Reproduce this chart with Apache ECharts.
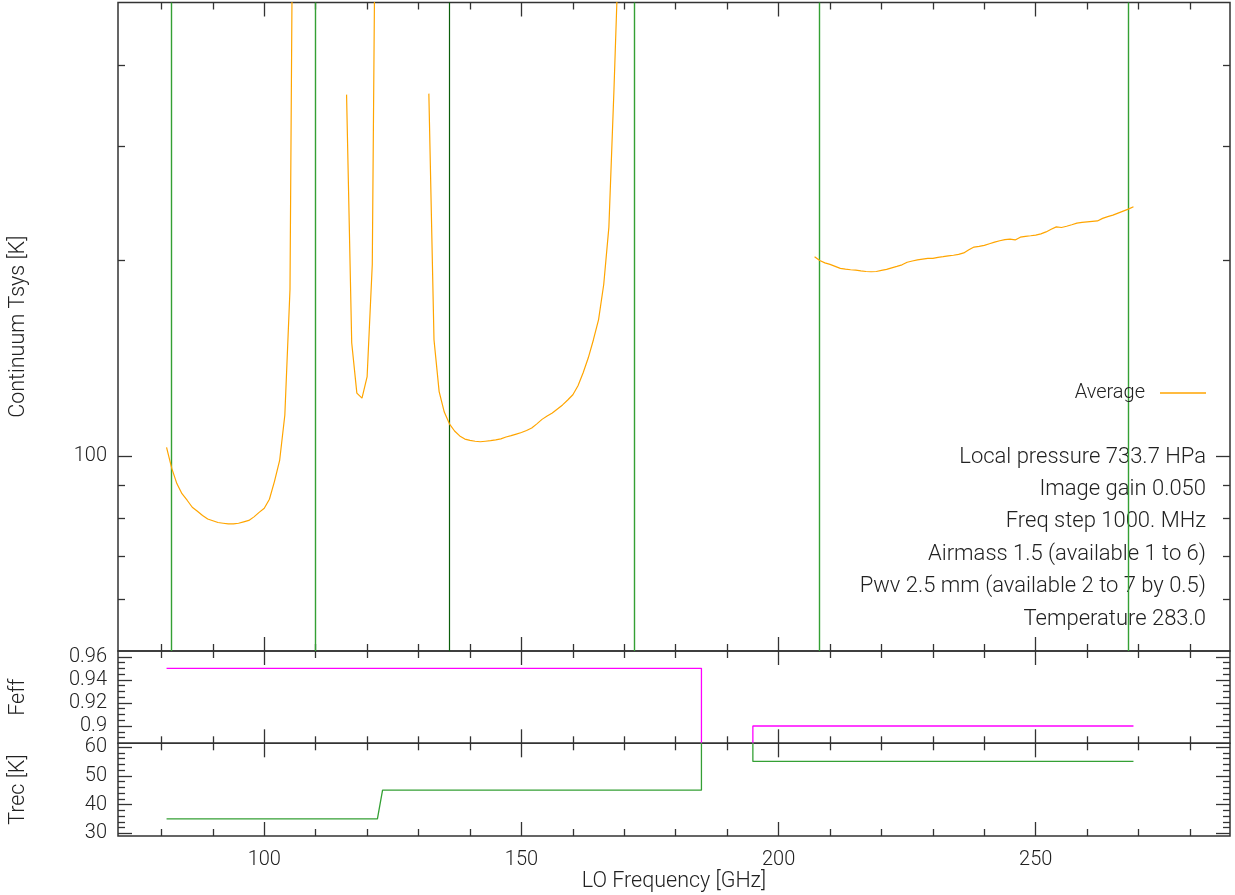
<!DOCTYPE html>
<html><head><meta charset="utf-8">
<script src="https://cdn.jsdelivr.net/npm/echarts@6/dist/echarts.min.js"></script>
<style>html,body{margin:0;padding:0;background:#fff}#c{width:1235px;height:895px}</style>
</head><body><div id="c"></div>
<script>
// ---------- data ----------
const seg1Freq = [81,82,83,84,85,86,87,88,89,90,91,92,93,94,95,96,97,98,99,100,101,102,103,104,105,106];
const seg1Tsys = [103.0,95.7,90.6,87.4,85.4,83.3,82.1,80.9,79.9,79.4,78.9,78.7,78.5,78.5,78.7,79.1,79.5,80.5,81.8,83.0,85.7,91.4,98.5,115.6,180.5,2600];
const seg2Freq = [116,117,118,119,120,121,122];
const seg2Tsys = [360.5,149.4,124.9,122.7,132.5,197.2,1824];
const seg3Freq = [132,133,134,135,136,137,138,139,140,141,142,143,144,145,146,147,148,149,150,151,152,153,154,155,156,157,158,159,160,161,162,163,164,165,166,167,168,169];
const seg3Tsys = [361.8,151.0,125.6,116.8,112.0,109.2,107.3,106.1,105.6,105.3,105.1,105.3,105.5,105.8,106.2,106.9,107.4,108.0,108.6,109.4,110.4,112.0,113.8,115.2,116.4,118.1,119.8,121.9,124.2,128.2,134.3,141.6,151.0,162.2,183.7,225,368,640];
const seg4Freq = [207,208,209,210,211,212,213,214,215,216,217,218,219,220,221,222,223,224,225,226,227,228,229,230,231,232,233,234,235,236,237,238,239,240,241,242,243,244,245,246,247,248,249,250,251,252,253,254,255,256,257,258,259,260,261,262,263,264,265,266,267,268,269];
const seg4Tsys = [202.8,200.0,198.4,197.3,195.9,194.5,194.0,193.6,193.3,192.8,192.4,192.2,192.4,193.1,193.8,194.9,195.9,197.0,198.8,199.7,200.5,201.0,201.5,201.6,202.3,202.8,203.4,203.8,204.5,205.5,207.8,209.8,210.4,211.1,212.3,213.5,214.6,215.4,215.8,215.2,217.3,218.0,218.4,218.9,219.9,221.4,223.5,225.4,224.9,225.9,227.1,228.4,229.0,229.4,229.8,230.2,232.3,233.8,235.0,236.7,238.4,240.1,242.1];

const bandEdges = [82,110,172,208,268];
const darkEdges = [136];

const feffFreq = [81,185,185,195,195,269];
const feffVal  = [0.95,0.95,0.80,0.80,0.90,0.90];
const trecFreq = [81,122,123,185,185,195,195,269];
const trecVal  = [35,35,45,45,80,80,55,55];

const xMajor = [100,150,200,250];
const xMinor = [80,90,110,120,130,140,160,170,180,190,210,220,230,240,260,270,280];
const tsysMajor = [100];
const tsysMinor = [60,70,80,90,200,300,400];
const feffMajor = [0.90,0.92,0.94,0.96];
const feffMinor = [0.89,0.895,0.905,0.91,0.915,0.925,0.93,0.935,0.945,0.95,0.955];
const trecMajor = [30,40,50,60];
const trecMinor = [32,34,36,38,42,44,46,48,52,54,56,58];

const infoLines = ['Local pressure 733.7 HPa','Image gain 0.050','Freq step 1000. MHz','Airmass 1.5 (available 1 to 6)','Pwv 2.5 mm (available 2 to 7 by 0.5)','Temperature 283.0'];

// ---------- layout ----------
const FONT = 'Roboto';
const FW = 300;
const TXT = '#222';
const X_MIN = 71.56, X_MAX = 287.77;
const LOG_MIN = Math.log10(50), LOG_MAX = Math.log10(500);
const FEFF_MIN = 0.885, FEFF_MAX = 0.965;
const TREC_MIN = 29.06, TREC_MAX = 61.3;
const TICK = {color:'#333', width:1.3};
const MAJ = 14, MIN = 7;

function tickAxis(grid, pos, min, max, vals, len, extra) {
  return Object.assign({
    type:'value', gridIndex:grid, position:pos, min:min, max:max,
    axisLine:{show:false}, splitLine:{show:false},
    axisTick:{show:true, inside:true, length:len, customValues:vals, lineStyle:TICK},
    axisLabel:{show:false}
  }, extra || {});
}
function label(vals, fmt, margin) {
  const o = {show:true, customValues:vals, fontFamily:FONT, fontWeight:FW, fontSize:20, color:TXT, margin:margin};
  if (fmt) o.formatter = fmt;
  return o;
}
const nameStyle = {fontFamily:FONT, fontWeight:FW, fontSize:21.5, color:TXT};

const xAxes = [];
for (let g = 0; g < 3; g++) {
  const bottomExtra = g === 2 ? {
    axisLabel: label(xMajor, null, 14),
    name:'LO Frequency [GHz]', nameLocation:'middle', nameGap:31, nameTextStyle:nameStyle
  } : {};
  xAxes.push(tickAxis(g,'bottom',X_MIN,X_MAX,xMajor,MAJ,bottomExtra));
  xAxes.push(tickAxis(g,'bottom',X_MIN,X_MAX,xMinor,MIN));
  xAxes.push(tickAxis(g,'top',X_MIN,X_MAX,xMajor,MAJ));
  xAxes.push(tickAxis(g,'top',X_MIN,X_MAX,xMinor,MIN));
}

const yAxes = [
  // main data axis (log)
  {type:'log', logBase:10, gridIndex:0, min:50, max:500, position:'left',
   axisLine:{show:false}, axisTick:{show:false}, axisLabel:{show:false}, splitLine:{show:false},
   name:'Continuum Tsys [K]', nameLocation:'middle', nameGap:88, nameTextStyle:nameStyle},
  // main tick axes (log-space positions)
  tickAxis(0,'left',LOG_MIN,LOG_MAX,tsysMajor.map(Math.log10),MAJ,
    {axisLabel: label(tsysMajor.map(Math.log10), v => String(Math.round(Math.pow(10, v))), 11)}),
  tickAxis(0,'left',LOG_MIN,LOG_MAX,tsysMinor.map(Math.log10),MIN),
  tickAxis(0,'right',LOG_MIN,LOG_MAX,tsysMajor.map(Math.log10),MAJ),
  tickAxis(0,'right',LOG_MIN,LOG_MAX,tsysMinor.map(Math.log10),MIN),
  // feff
  tickAxis(1,'left',FEFF_MIN,FEFF_MAX,feffMajor,MAJ,
    {axisLabel: label(feffMajor, null, 11), name:'Feff', nameLocation:'middle', nameGap:88, nameTextStyle:nameStyle}),
  tickAxis(1,'left',FEFF_MIN,FEFF_MAX,feffMinor,MIN),
  tickAxis(1,'right',FEFF_MIN,FEFF_MAX,feffMajor,MAJ),
  tickAxis(1,'right',FEFF_MIN,FEFF_MAX,feffMinor,MIN),
  // trec
  tickAxis(2,'left',TREC_MIN,TREC_MAX,trecMajor,MAJ,
    {axisLabel: label(trecMajor, null, 11), name:'Trec [K]', nameLocation:'middle', nameGap:88, nameTextStyle:nameStyle}),
  tickAxis(2,'left',TREC_MIN,TREC_MAX,trecMinor,MIN),
  tickAxis(2,'right',TREC_MIN,TREC_MAX,trecMajor,MAJ),
  tickAxis(2,'right',TREC_MIN,TREC_MAX,trecMinor,MIN)
];

const pair = (xs, ys) => xs.map((x, i) => [x, ys[i]]);
const segments = [[seg1Freq,seg1Tsys],[seg2Freq,seg2Tsys],[seg3Freq,seg3Tsys],[seg4Freq,seg4Tsys]];

const edgeLines = bandEdges.map(v => ({xAxis:v, lineStyle:{color:'#34a034', width:1.4, type:'solid'}}))
  .concat(darkEdges.map(v => ({xAxis:v, lineStyle:{color:'#0b5e0b', width:1.2, type:'solid'}})));

const series = segments.map((s, i) => {
  const o = {
    name:'Average', type:'line', xAxisIndex:0, yAxisIndex:0,
    data: pair(s[0], s[1]), showSymbol:false, symbol:'none', clip:true,
    lineStyle:{color:'#ffa500', width:1.2}, itemStyle:{color:'#ffa500'}, z:3
  };
  if (i === 0) o.markLine = {silent:true, symbol:['none','none'], label:{show:false}, data:edgeLines, animation:false, z:2};
  return o;
});
series.push({name:'Feff', type:'line', xAxisIndex:4, yAxisIndex:5, data:pair(feffFreq, feffVal),
  showSymbol:false, symbol:'none', clip:true, lineStyle:{color:'#ff00ff', width:1.3}});
series.push({name:'Trec', type:'line', xAxisIndex:8, yAxisIndex:9, data:pair(trecFreq, trecVal),
  showSymbol:false, symbol:'none', clip:true, lineStyle:{color:'#34a034', width:1.3}});

const graphics = infoLines.map((t, i) => ({
  type:'text', x:1206, y:457 + i * 32.4, silent:true,
  style:{text:t, font:FW + ' 22px ' + FONT, fill:TXT, align:'right', verticalAlign:'middle'}
}));

const chart = echarts.init(document.getElementById('c'), null, {renderer:'canvas'});
chart.setOption({
  animation:false,
  backgroundColor:'#fff',
  grid:[
    {left:118, top:2.5, width:1112, height:648.5, show:true, borderColor:'#333', borderWidth:1.5, backgroundColor:'transparent'},
    {left:118, top:651, width:1112, height:92.3, show:true, borderColor:'#333', borderWidth:1.5, backgroundColor:'transparent'},
    {left:118, top:743.3, width:1112, height:92.7, show:true, borderColor:'#333', borderWidth:1.5, backgroundColor:'transparent'}
  ],
  xAxis: xAxes,
  yAxis: yAxes,
  legend:{data:['Average'], right:24, top:378, align:'right', icon:'rect', itemWidth:46, itemHeight:1.5,
    selectedMode:false, itemStyle:{color:'#ffa500'},
    textStyle:{fontFamily:FONT, fontWeight:FW, fontSize:20, color:TXT, padding:[0,10,0,0]}},
  graphic: graphics,
  series: series
});
</script>
</body></html>
